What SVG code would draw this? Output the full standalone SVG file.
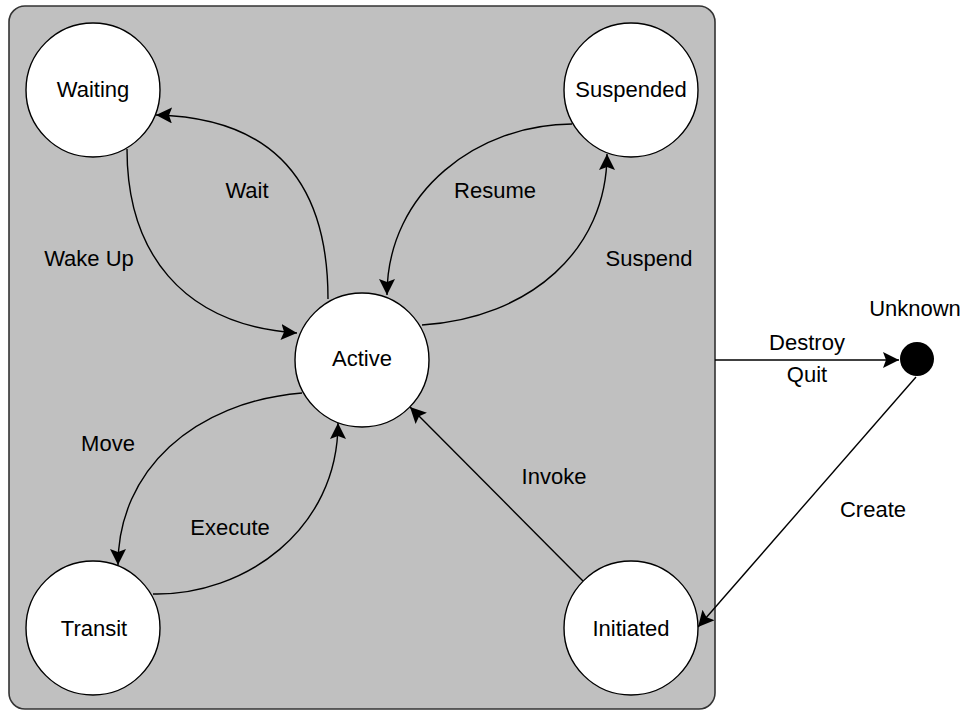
<svg xmlns="http://www.w3.org/2000/svg" width="964" height="710" viewBox="0 0 964 710">
<style>
text{font-family:"Liberation Sans",Arial,sans-serif;font-size:22px;fill:#000;text-anchor:middle}
.state{fill:#fff;stroke:#000;stroke-width:1.4}
.edge{fill:none;stroke:#000;stroke-width:1.4;marker-end:url(#arrow)}
</style>
<defs>
<marker id="arrow" markerUnits="userSpaceOnUse" markerWidth="20" markerHeight="20" refX="16" refY="8" orient="auto">
<path d="M0,0 L16,8 L0,16 L3,8 Z" fill="#000"/>
</marker>
</defs>
<rect width="964" height="710" fill="#fff"/>
<g id="container">
<rect x="9" y="6" width="706" height="703" rx="16" ry="16" fill="#c0c0c0" stroke="#333" stroke-width="1.6"/>
</g>
<g id="connectors">
<path class="edge" d="M328,299 C328,190 280,118 156,115"/>
<path class="edge" d="M127,149 C127,250 180,325 297,333"/>
<path class="edge" d="M572,124 C480,124 387,190 387,295"/>
<path class="edge" d="M422,325 C530,318 607,250 607,154"/>
<path class="edge" d="M302,393 C194,402 118,470 118,565"/>
<path class="edge" d="M153,594 C244,596 338,530 338,423"/>
<path class="edge" d="M583,581 L410,407"/>
<path class="edge" d="M916,377 L698,627"/>
<path class="edge" d="M715,360 L899,360"/>
<text x="247" y="198">Wait</text>
<text x="89" y="266">Wake Up</text>
<text x="495" y="198">Resume</text>
<text x="649" y="266">Suspend</text>
<text x="108" y="451">Move</text>
<text x="230" y="535">Execute</text>
<text x="554" y="484">Invoke</text>
<text x="807" y="350">Destroy</text>
<text x="807" y="382">Quit</text>
<text x="873" y="517">Create</text>
</g>
<g id="waiting">
<circle class="state" cx="93" cy="90" r="67"/>
<text x="93" y="97">Waiting</text>
</g>
<g id="suspended">
<circle class="state" cx="631" cy="90" r="67"/>
<text x="631" y="97">Suspended</text>
</g>
<g id="active">
<circle class="state" cx="362" cy="360" r="67"/>
<text x="362" y="366">Active</text>
</g>
<g id="transit">
<circle class="state" cx="93" cy="628" r="67"/>
<text x="94" y="636">Transit</text>
</g>
<g id="initiated">
<circle class="state" cx="631" cy="628" r="67"/>
<text x="631" y="636">Initiated</text>
</g>
<g id="unknown">
<circle cx="917" cy="359" r="17" fill="#000"/>
<text x="915" y="316">Unknown</text>
</g>
</svg>
